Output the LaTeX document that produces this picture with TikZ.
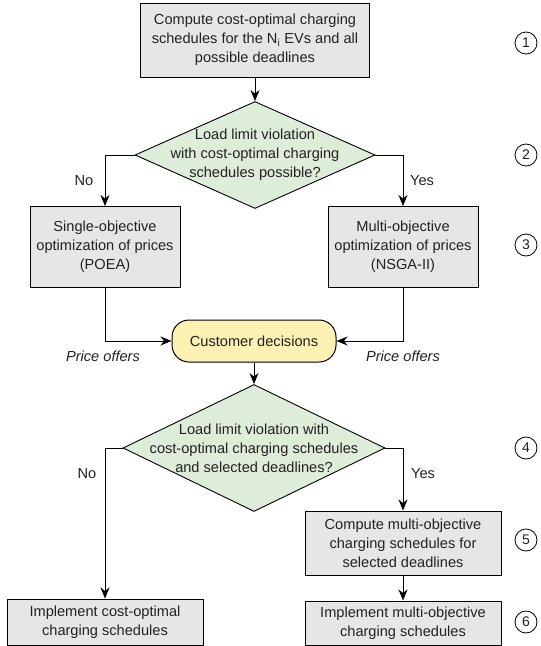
\documentclass[tikz,border=0pt]{standalone}
\usepackage{fontspec}
\setmainfont{Liberation Sans}
\usetikzlibrary{arrows.meta,shapes.geometric}

\definecolor{boxgray}{HTML}{E6E6E6}
\definecolor{decgreen}{HTML}{DDEDDA}
\definecolor{custyellow}{HTML}{FDF1B4}
\definecolor{txt}{HTML}{222222}

\begin{document}
\begin{tikzpicture}[x=1pt, y=-1pt,
    font=\fontsize{14.6}{19}\selectfont, text=txt,
    arr/.style={-{Stealth[length=11pt, width=9pt, inset=3.5pt]}, line width=0.9pt},
    stepbox/.style={draw, line width=1pt, fill=boxgray, align=center, inner sep=0pt},
    decision/.style={diamond, draw, line width=0.9pt, fill=decgreen, inner sep=0pt},
    custbox/.style={draw, line width=1pt, fill=custyellow, rounded corners=17pt, inner sep=0pt},
    stepnum/.style={circle, draw, line width=0.8pt, minimum size=22pt, inner sep=0pt, font=\fontsize{14}{16}\selectfont}]
    \useasboundingbox (0,0) rectangle (541,646);

    % Boxes
    \node[stepbox, minimum width=229pt, minimum height=74pt] (costopt) at (255,40)
        {Compute cost-optimal charging\\schedules for the N\textsubscript{i} EVs and all\\possible deadlines};
    \node[stepbox, minimum width=150pt, minimum height=81pt] (single) at (105,247)
        {Single-objective\\optimization of prices\\(POEA)};
    \node[stepbox, minimum width=150pt, minimum height=81pt] (multi) at (403,247)
        {Multi-objective\\optimization of prices\\(NSGA-II)};
    \node[custbox, minimum width=164pt, minimum height=42pt] (cust) at (254,341)
        {Customer decisions};
    \node[stepbox, minimum width=196pt, minimum height=64pt] (compmo) at (403,543)
        {Compute multi-objective\\charging schedules for\\selected deadlines};
    \node[stepbox, minimum width=196pt, minimum height=44pt] (implmo) at (403,623)
        {Implement multi-objective\\charging schedules};
    \node[stepbox, minimum width=196pt, minimum height=46pt] (implco) at (105,622)
        {Implement cost-optimal\\charging schedules};

    % Decisions
    \node[decision, minimum width=240pt, minimum height=107pt] (check1) at (255,155) {};
    \node[align=center] (check1txt) at (check1)
        {Load limit violation\\with cost-optimal charging\\schedules possible?};
    \node[decision, minimum width=262pt, minimum height=127pt] (check2) at (254,448) {};
    \node[align=center] (check2txt) at (check2)
        {Load limit violation with\\cost-optimal charging schedules\\and selected deadlines?};

    % Connectors
    \draw[arr] (costopt) -- (check1);
    \draw[arr] (check1.west) -| (single.north);
    \draw[arr] (check1.east) -| (multi.north);
    \draw[arr] (single.south) |- (cust.west);
    \draw[arr] (multi.south) |- (cust.east);
    \draw[arr] (cust) -- (check2);
    \draw[arr] (check2.west) -| (implco.north);
    \draw[arr] (check2.east) -| (compmo.north);
    \draw[arr] (compmo) -- (implmo);

    % Labels on connectors
    \node (no1) at (84,181) {No};
    \node (yes1) at (422,181) {Yes};
    \node (no2) at (87,474) {No};
    \node (yes2) at (423,474) {Yes};
    \node[font=\fontsize{14.6}{19}\selectfont\itshape] (offl) at (103,356) {Price offers};
    \node[font=\fontsize{14.6}{19}\selectfont\itshape] (offr) at (403,356) {Price offers};

    % Step numbers
    \foreach \n/\y in {1/43, 2/155, 3/245, 4/448, 5/540, 6/622}
        \node[stepnum] (num\n) at (526,\y) {\n};

\end{tikzpicture}
\end{document}
